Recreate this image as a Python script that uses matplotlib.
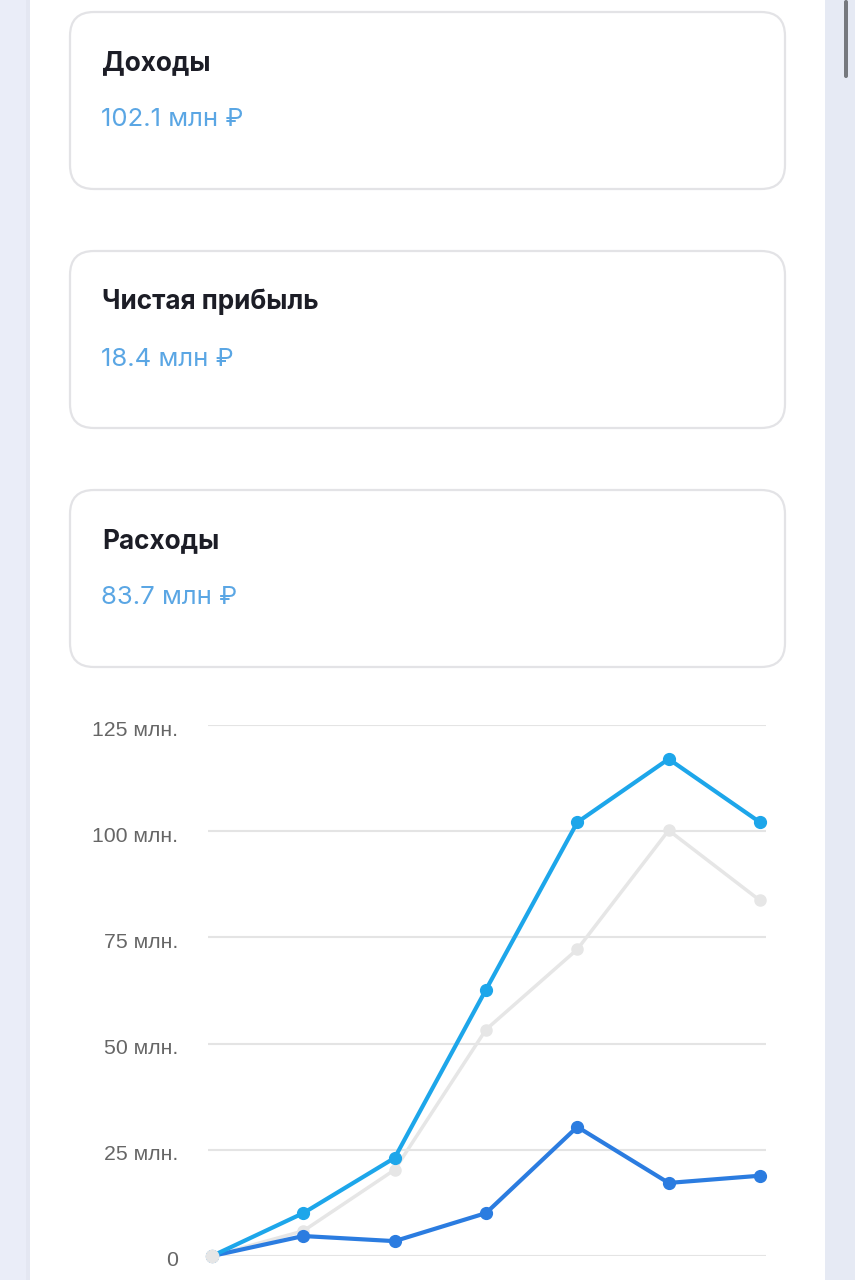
import matplotlib.pyplot as plt
from matplotlib.patches import FancyBboxPatch, Rectangle
import matplotlib.transforms as mtransforms
import numpy as np

plt.rcParams['font.family'] = ['Inter', 'DejaVu Sans']

# данные карточек
card_titles = ["Доходы", "Чистая прибыль", "Расходы"]
card_values = ["102.1 млн ₽", "18.4 млн ₽", "83.7 млн ₽"]

# данные графика (млн ₽)
points = np.arange(7)
income = [0, 10.1, 23.1, 62.7, 102.1, 117.0, 102.1]
expenses = [0, 5.9, 20.3, 53.3, 72.2, 100.2, 83.7]
profit = [0, 4.7, 3.5, 10.1, 30.4, 17.2, 18.9]
y_ticks = [0, 25, 50, 75, 100, 125]
y_labels = ["0", "25 млн.", "50 млн.", "75 млн.", "100 млн.", "125 млн."]

W, H = 855, 1280
fig = plt.figure(figsize=(W / 100, H / 100), dpi=100)
fig.patch.set_facecolor("#ffffff")

# фон страницы в пикселях
bg = fig.add_axes([0, 0, 1, 1])
bg.set_xlim(0, W)
bg.set_ylim(H, 0)
bg.axis("off")
bg.add_patch(Rectangle((0, 0), 30, H, color="#eaedf8", lw=0))
bg.add_patch(Rectangle((26, 0), 4, H, color="#e4e7f2", lw=0))
bg.add_patch(Rectangle((825, 0), 30, H, color="#e6eaf4", lw=0))
bg.add_patch(FancyBboxPatch((844, 0), 4, 78, boxstyle="round,pad=0,rounding_size=2",
                            color="#76797e", lw=0))

# карточки
card_tops = [12, 251, 490]
for top, title, value in zip(card_tops, card_titles, card_values):
    bg.add_patch(FancyBboxPatch((70, top), 715, 177,
                                boxstyle="round,pad=0,rounding_size=24",
                                facecolor="white", edgecolor="#e3e3e6", lw=1.6))
    bg.text(102, top + 51, title, fontsize=18.8, fontweight="bold",
            color="#1c1d26", va="center", ha="left")
    bg.text(101, top + 108, value, fontsize=18.5, color="#5aa6e4",
            va="center", ha="left")

# график
ax = fig.add_axes([208 / W, (H - 1256) / H, 558 / W, (1256 - 725) / H])
ax.set_xlim(-0.044, 6.066)
ax.set_ylim(0, 125)
for s in ax.spines.values():
    s.set_visible(False)
ax.set_xticks([])
ax.set_yticks(y_ticks)
ax.set_yticklabels(y_labels, family=["Liberation Sans", "DejaVu Sans"])
ax.tick_params(axis="y", length=0, pad=21.5, labelsize=15.3, labelcolor="#666666")
shift = mtransforms.ScaledTranslation(0, -3 / 100, fig.dpi_scale_trans)
for lbl in ax.get_yticklabels():
    lbl.set_transform(lbl.get_transform() + shift)
ax.grid(axis="y", color="#e4e4e4", lw=1.5)
ax.set_axisbelow(True)

ax.plot(points, expenses, color="#e6e6e6", lw=2.5, marker="o", ms=8, clip_on=False, zorder=3)
ax.plot(points, profit, color="#2b7ce0", lw=3, marker="o", ms=8.5, clip_on=False, zorder=4)
ax.plot(points, income, color="#1da6ea", lw=3, marker="o", ms=8.5, clip_on=False, zorder=5)
ax.plot(points[:1], expenses[:1], color="#e6e6e6", marker="o", ms=9, clip_on=False, zorder=6)

fig.savefig("out.png", dpi=100, facecolor=fig.get_facecolor())
